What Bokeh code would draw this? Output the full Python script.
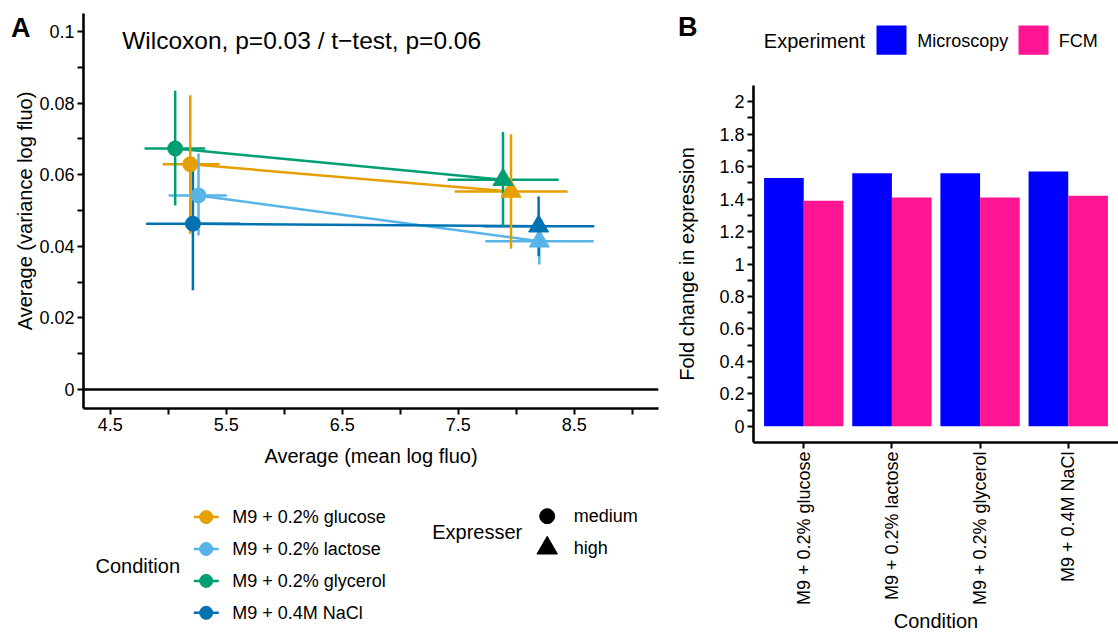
import numpy as np
from bokeh.plotting import figure
from bokeh.models import ColumnDataSource, Range1d, FactorRange, FixedTicker, Span, Label, LinearAxis
from bokeh.layouts import row, column
from bokeh.transform import dodge
from bokeh.core.properties import value
from bokeh.embed import file_html
from bokeh.resources import INLINE

FONT = "Liberation Sans"

# ---------------- data ----------------
conditions = ["M9 + 0.2% glucose", "M9 + 0.2% lactose", "M9 + 0.2% glycerol", "M9 + 0.4M NaCl"]
condition_colors = ["#E69F00", "#56B4E9", "#009E73", "#0072B2"]
expressers = ["medium", "high"]
expresser_markers = ["circle", "triangle"]

# Panel A, medium expresser
med_mean = [5.190, 5.261, 5.060, 5.213]
med_mean_lo = [4.953, 5.003, 4.796, 4.810]
med_mean_hi = [5.442, 5.505, 5.319, 5.621]
med_var = [0.0629, 0.0542, 0.0673, 0.0463]
med_var_lo = [0.0435, 0.0430, 0.0514, 0.0277]
med_var_hi = [0.0822, 0.0659, 0.0834, 0.0649]

# Panel A, high expresser
high_mean = [7.954, 8.198, 7.885, 8.192]
high_mean_lo = [7.468, 7.733, 7.408, 7.718]
high_mean_hi = [8.442, 8.666, 8.365, 8.672]
high_var = [0.0553, 0.0414, 0.0586, 0.0456]
high_var_lo = [0.0393, 0.0349, 0.0456, 0.0372]
high_var_hi = [0.0713, 0.0460, 0.0719, 0.0539]

xA_ticks = [4.5, 5.5, 6.5, 7.5, 8.5]
xA_minor = [5, 6, 7, 8, 9]
yA_ticks = [0, 0.02, 0.04, 0.06, 0.08, 0.1]
yA_labels = ["0", "0.02", "0.04", "0.06", "0.08", "0.1"]
yA_minor = [0.01, 0.03, 0.05, 0.07, 0.09]
title_A = "Wilcoxon, p=0.03 / t\u2212test, p=0.06"

# Panel B
experiments = ["Microscopy", "FCM"]
experiment_colors = ["#0000FF", "#FF1493"]
fold_microscopy = [1.53, 1.56, 1.56, 1.57]
fold_fcm = [1.39, 1.41, 1.41, 1.42]
yB_ticks = [0, 0.2, 0.4, 0.6, 0.8, 1, 1.2, 1.4, 1.6, 1.8, 2]
yB_labels = ["0", "0.2", "0.4", "0.6", "0.8", "1", "1.2", "1.4", "1.6", "1.8", "2"]
yB_minor = [0.1, 0.3, 0.5, 0.7, 0.9, 1.1, 1.3, 1.5, 1.7, 1.9]


def clean(p):
    p.xgrid.visible = False
    p.ygrid.visible = False
    p.outline_line_color = None
    p.background_fill_color = "white"
    p.border_fill_color = "white"


def style_axis(ax, label_standoff, tick_standoff=3):
    ax.axis_line_width = 2.6
    ax.axis_line_color = "black"
    ax.major_tick_line_width = 2
    ax.minor_tick_line_width = 2
    ax.major_tick_line_color = "black"
    ax.minor_tick_line_color = "black"
    ax.major_tick_out = 6
    ax.major_tick_in = 0
    ax.minor_tick_out = 6
    ax.minor_tick_in = 0
    ax.major_label_standoff = tick_standoff
    ax.major_label_text_font = FONT
    ax.major_label_text_font_size = "18px"
    ax.major_label_text_color = "black"
    ax.axis_label_text_font = FONT
    ax.axis_label_text_font_size = "20px"
    ax.axis_label_text_font_style = "normal"
    ax.axis_label_text_color = "black"
    ax.axis_label_standoff = label_standoff


def panel_tag(ax, tick, text, standoff):
    # an axis with no line/ticks whose only label is the panel tag
    ax.ticker = FixedTicker(ticks=[tick])
    ax.major_label_overrides = {tick: text}
    ax.axis_line_color = None
    ax.major_tick_line_color = None
    ax.minor_tick_line_color = None
    ax.major_tick_out = 0
    ax.major_tick_in = 0
    ax.minor_tick_out = 0
    ax.minor_tick_in = 0
    ax.major_label_standoff = standoff
    ax.major_label_text_font = FONT
    ax.major_label_text_font_size = "27px"
    ax.major_label_text_font_style = "bold"
    ax.major_label_text_color = "black"


# ---------------- Panel A ----------------
pA = figure(width=670, height=474, x_range=Range1d(4.27, 9.225), y_range=Range1d(-0.0053, 0.1050),
            output_backend="svg", toolbar_location=None,
            min_border_left=83, min_border_right=12, min_border_top=13, min_border_bottom=66)
clean(pA)
pA.add_layout(Span(location=0, dimension="width", line_color="black", line_width=2.6))

med = ColumnDataSource(dict(cond=conditions, color=condition_colors, x=med_mean, xl=med_mean_lo, xh=med_mean_hi,
                            y=med_var, yl=med_var_lo, yh=med_var_hi,
                            x1=high_mean, y1=high_var))
high = ColumnDataSource(dict(cond=conditions, color=condition_colors, x=high_mean, xl=high_mean_lo, xh=high_mean_hi,
                             y=high_var, yl=high_var_lo, yh=high_var_hi))

pA.segment(x0="x", y0="y", x1="x1", y1="y1", color="color", line_width=2.5, source=med)
for src in (med, high):
    pA.segment(x0="xl", y0="y", x1="xh", y1="y", color="color", line_width=2.5, source=src)
    pA.segment(x0="x", y0="yl", x1="x", y1="yh", color="color", line_width=2.5, source=src)
pA.scatter(x="x", y="y", marker=expresser_markers[0], size=15, color="color", source=med)
pA.scatter(x="x", y="y", marker=expresser_markers[1], size=20, color="color", source=high)

pA.xaxis.ticker = FixedTicker(ticks=xA_ticks, minor_ticks=xA_minor)
pA.yaxis.ticker = FixedTicker(ticks=yA_ticks, minor_ticks=yA_minor)
pA.yaxis.major_label_overrides = {t: l for t, l in zip(yA_ticks, yA_labels)}
pA.xaxis.axis_label = "Average (mean log fluo)"
pA.yaxis.axis_label = "Average (variance log fluo)"
style_axis(pA.xaxis[0], 11)
style_axis(pA.yaxis[0], 0)

tagA = LinearAxis()
panel_tag(tagA, 0.101, "A", -19)
pA.add_layout(tagA, "left")

pA.add_layout(Label(x=38.7, y=368, x_units="screen", y_units="screen", text=title_A,
                    text_font=FONT, text_font_size="24.5px", text_color="black", text_baseline="alphabetic"))

# ---------------- Legend for panel A (frame aligned with panel A: pixels 83..658) ----------------
pLA = figure(width=670, height=161, x_range=Range1d(83, 658), y_range=Range1d(635, 474),
             output_backend="svg", toolbar_location=None, min_border=0,
             min_border_left=83, min_border_right=12,
             x_axis_location=None, y_axis_location=None)
clean(pLA)
rows_c = [516.6 + 31.9 * i for i in range(len(conditions))]
leg_c = ColumnDataSource(dict(y=rows_c, color=condition_colors, text=conditions))
pLA.segment(x0=193.3, y0="y", x1=218.3, y1="y", color="color", line_width=2.5, source=leg_c)
pLA.scatter(x=205.7, y="y", size=13, color="color", marker="circle", source=leg_c)
pLA.text(x=231.7, y="y", text="text", source=leg_c, text_font=value(FONT), text_font_size="18px",
         text_baseline="middle", text_align="left", text_color="black")
pLA.text(x=[95], y=[565], text=["Condition"], text_font=value(FONT), text_font_size="20px",
         text_baseline="middle", text_align="left", text_color="black")

rows_e = [515.7 + 31.9 * i for i in range(len(expressers))]
leg_e = ColumnDataSource(dict(y=rows_e, marker=expresser_markers, size=[15, 20.5], text=expressers))
pLA.scatter(x=546.7, y="y", marker="marker", size="size", color="black", source=leg_e)
pLA.text(x=573.3, y="y", text="text", source=leg_e, text_font=value(FONT), text_font_size="18px",
         text_baseline="middle", text_align="left", text_color="black")
pLA.text(x=[431.7], y=[531.7], text=["Expresser"], text_font=value(FONT), text_font_size="20px",
         text_baseline="middle", text_align="left", text_color="black")

# ---------------- Panel B ----------------
pB = figure(width=448, height=550,
            x_range=FactorRange(*conditions, range_padding=0.07, range_padding_units="absolute"),
            y_range=Range1d(-0.1, 2.1),
            output_backend="svg", toolbar_location=None,
            min_border_left=83, min_border_right=0, min_border_top=0, min_border_bottom=193)
clean(pB)
srcB = ColumnDataSource(dict(cond=conditions, micro=fold_microscopy, fcm=fold_fcm))
pB.vbar(x=dodge("cond", -0.225, range=pB.x_range), top="micro", width=0.45, source=srcB,
        fill_color=experiment_colors[0], line_color=None)
pB.vbar(x=dodge("cond", 0.225, range=pB.x_range), top="fcm", width=0.45, source=srcB,
        fill_color=experiment_colors[1], line_color=None)
pB.yaxis.ticker = FixedTicker(ticks=yB_ticks, minor_ticks=yB_minor)
pB.yaxis.major_label_overrides = {t: l for t, l in zip(yB_ticks, yB_labels)}
pB.xaxis.major_label_orientation = np.pi / 2
pB.xaxis.axis_label = "Condition"
pB.yaxis.axis_label = "Fold change in expression"
style_axis(pB.xaxis[0], 2, 3)
style_axis(pB.yaxis[0], 18)

# ---------------- Legend for panel B (frame aligned with panel B: pixels 753..1118) ----------------
pLB = figure(width=448, height=85, x_range=Range1d(753, 1118), y_range=Range1d(85, 0),
             output_backend="svg", toolbar_location=None, min_border=0,
             min_border_left=83, min_border_right=0,
             x_axis_location=None, y_axis_location="left")
clean(pLB)
panel_tag(pLB.yaxis[0], 26, "B", 56)
leg_b = ColumnDataSource(dict(x=[891.0, 1033.0], tx=[916.7, 1058.3], color=experiment_colors, text=experiments))
pLB.rect(x="x", y=39.7, width=30, height=29.3, fill_color="color", line_color=None, source=leg_b)
pLB.text(x="tx", y=40, text="text", source=leg_b, text_font=value(FONT), text_font_size="18px",
         text_baseline="middle", text_align="left", text_color="black")
pLB.text(x=[763.3], y=[40], text=["Experiment"], text_font=value(FONT), text_font_size="20px",
         text_baseline="middle", text_align="left", text_color="black")

layout = row(column(pA, pLA), column(pLB, pB))
open("out.html", "w").write(file_html(layout, INLINE))
